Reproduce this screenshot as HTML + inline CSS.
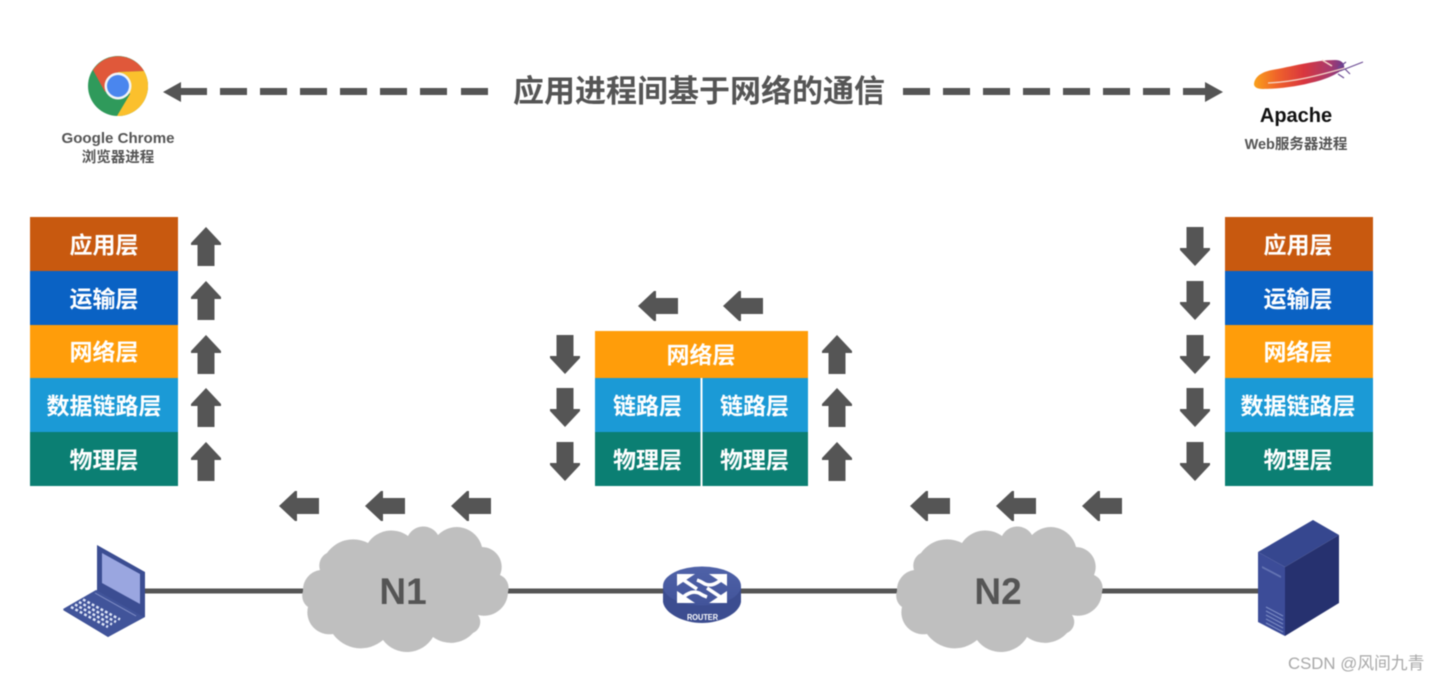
<!DOCTYPE html>
<html lang="zh">
<head>
<meta charset="utf-8">
<title>应用进程间基于网络的通信</title>
<style>
html,body{margin:0;padding:0;background:#fff;width:1440px;height:681px;overflow:hidden}
svg{display:block;font-family:"Liberation Sans","Noto Sans CJK SC",sans-serif;filter:blur(0.4px)}
.l{font-size:23px;font-weight:700;fill:#fff;text-anchor:middle}
</style>
</head>
<body>
<svg width="1440" height="681" viewBox="0 0 1440 681" xmlns="http://www.w3.org/2000/svg">
<defs>
<path id="up" d="M0,0 L15,16 L15,18 L8.5,18 L8.5,39 L-8.5,39 L-8.5,18 L-15,18 L-15,16 Z" fill="#555"/>
<path id="dn" d="M0,39 L15,23 L15,21 L8.5,21 L8.5,0 L-8.5,0 L-8.5,21 L-15,21 L-15,23 Z" fill="#555"/>
<path id="lf" d="M0,0 L16,-15 L18,-15 L18,-8 L40,-8 L40,8 L18,8 L18,15 L16,15 Z" fill="#555"/>
<path id="cloud" d="M303,591 A20,20 0 0 1 320,570 A14,14 0 0 1 327,553 A32,32 0 0 1 368,543 A28,28 0 0 1 408,536 A17,17 0 0 1 438,535 A26,26 0 0 1 482,547 A20,20 0 0 1 500,575 A14,14 0 0 1 508,592 A24,24 0 0 1 478,615 A12,12 0 0 1 473,633 A30,30 0 0 1 433,637 A30,30 0 0 1 383,640 A34,34 0 0 1 333,634 A22,22 0 0 1 308,607 A14,14 0 0 1 303,591 Z" fill="#bfbfbf"/>
<linearGradient id="fe" x1="0" y1="0.5" x2="1" y2="0.5">
<stop offset="0" stop-color="#f9a11b"/><stop offset="0.25" stop-color="#f0642a"/><stop offset="0.55" stop-color="#d9363e"/><stop offset="0.85" stop-color="#a63a6f"/><stop offset="1" stop-color="#6b3a8c"/>
</linearGradient>
<linearGradient id="rt" x1="0" y1="0" x2="0" y2="1"><stop offset="0" stop-color="#4f62a8"/><stop offset="1" stop-color="#42549a"/></linearGradient>
</defs>
<rect width="1440" height="681" fill="#fff"/>

<!-- dashed arrow -->
<g fill="#555">
<path d="M163,92 L181,82 L181,88 L207,88 L207,95 L181,95 L181,102 Z"/>
<rect x="220" y="88" width="27" height="7"/><rect x="260" y="88" width="27" height="7"/><rect x="300" y="88" width="27" height="7"/><rect x="340" y="88" width="27" height="7"/><rect x="380" y="88" width="27" height="7"/><rect x="420" y="88" width="27" height="7"/><rect x="461" y="88" width="27" height="7"/>
<rect x="903" y="88" width="27" height="7"/><rect x="943" y="88" width="27" height="7"/><rect x="983" y="88" width="27" height="7"/><rect x="1023" y="88" width="27" height="7"/><rect x="1063" y="88" width="27" height="7"/><rect x="1103" y="88" width="27" height="7"/><rect x="1143" y="88" width="27" height="7"/>
<path d="M1223,92 L1205,82 L1205,88 L1183,88 L1183,95 L1205,95 L1205,102 Z"/>
</g>
<text x="699" y="102" font-size="31" font-weight="700" fill="#555" text-anchor="middle">应用进程间基于网络的通信</text>

<!-- chrome -->
<g>
<circle cx="118" cy="86" r="30" fill="#2f9a5b"/>
<path d="M93,70 A30,30 0 0 1 144,71 L118,72 L105,92 Z" fill="#e0583a"/>
<path d="M144,71 A30,30 0 0 1 117,116 L130,94 L118,72 Z" fill="#fbc02d"/>
<circle cx="118" cy="86" r="13.500" fill="#f2f4f7"/>
<circle cx="118" cy="86" r="11" fill="#4a86ee"/>
</g>
<text x="118" y="143" font-size="15" font-weight="700" fill="#555" text-anchor="middle" textLength="113" lengthAdjust="spacingAndGlyphs">Google Chrome</text>
<text x="118" y="162" font-size="14.500" font-weight="700" fill="#555" text-anchor="middle">浏览器进程</text>

<!-- apache feather -->
<path d="M1254,84 C1255,76 1262,72 1272,70 C1290,67 1315,60 1335,60 C1342,60 1345,64 1344,68 C1338,74 1325,80 1310,83 C1295,87 1275,89 1263,89 C1257,89 1254,87 1254,84 Z" fill="url(#fe)"/>
<path d="M1268,83 C1295,82 1320,75 1345,68" fill="none" stroke="#f6d7c8" stroke-width="1.200"/>
<path d="M1322,60 L1332,66" stroke="#f6d7c8" stroke-width="1.500"/>
<path d="M1340,71 L1363,62 M1338,68 L1346,62 M1338,74 L1344,78 M1345,69 L1350,74" fill="none" stroke="#6b4a93" stroke-width="1.200"/>
<text x="1296" y="122" font-size="20" font-weight="700" fill="#111" text-anchor="middle">Apache</text>
<text x="1296" y="149" font-size="14.500" font-weight="700" fill="#555" text-anchor="middle">Web服务器进程</text>

<!-- left stack -->
<rect x="30" y="217" width="148" height="54" fill="#c8590f"/>
<rect x="30" y="271" width="148" height="54" fill="#0a62c4"/>
<rect x="30" y="325" width="148" height="53" fill="#ff9d0a"/>
<rect x="30" y="378" width="148" height="54" fill="#1b9ad6"/>
<rect x="30" y="432" width="148" height="54" fill="#0b7f73"/>
<text class="l" x="104" y="253">应用层</text>
<text class="l" x="104" y="307">运输层</text>
<text class="l" x="104" y="360">网络层</text>
<text class="l" x="104" y="414">数据链路层</text>
<text class="l" x="104" y="468">物理层</text>
<use href="#up" x="206" y="227"/><use href="#up" x="206" y="281"/><use href="#up" x="206" y="335"/><use href="#up" x="206" y="388"/><use href="#up" x="206" y="442"/>

<!-- right stack -->
<rect x="1225" y="217" width="148" height="54" fill="#c8590f"/>
<rect x="1225" y="271" width="148" height="54" fill="#0a62c4"/>
<rect x="1225" y="325" width="148" height="53" fill="#ff9d0a"/>
<rect x="1225" y="378" width="148" height="54" fill="#1b9ad6"/>
<rect x="1225" y="432" width="148" height="54" fill="#0b7f73"/>
<text class="l" x="1298" y="253">应用层</text>
<text class="l" x="1298" y="307">运输层</text>
<text class="l" x="1298" y="360">网络层</text>
<text class="l" x="1298" y="414">数据链路层</text>
<text class="l" x="1298" y="468">物理层</text>
<use href="#dn" x="1195" y="227"/><use href="#dn" x="1195" y="281"/><use href="#dn" x="1195" y="335"/><use href="#dn" x="1195" y="388"/><use href="#dn" x="1195" y="442"/>

<!-- middle stack -->
<rect x="595" y="331" width="213" height="47" fill="#ff9d0a"/>
<rect x="595" y="378" width="213" height="54" fill="#1b9ad6"/>
<rect x="595" y="432" width="213" height="54" fill="#0b7f73"/>
<rect x="700.500" y="378" width="2" height="108" fill="#fff"/>
<text class="l" x="701" y="363">网络层</text>
<text class="l" x="647.500" y="414">链路层</text>
<text class="l" x="754.500" y="414">链路层</text>
<text class="l" x="647.500" y="468">物理层</text>
<text class="l" x="754.500" y="468">物理层</text>
<use href="#dn" x="565" y="335"/><use href="#dn" x="565" y="388"/><use href="#dn" x="565" y="442"/>
<use href="#up" x="837" y="335"/><use href="#up" x="837" y="388"/><use href="#up" x="837" y="442"/>
<use href="#lf" x="638" y="306"/><use href="#lf" x="723" y="306"/>

<!-- horizontal arrows -->
<use href="#lf" x="279" y="506"/><use href="#lf" x="365" y="506"/><use href="#lf" x="451" y="506"/>
<use href="#lf" x="910" y="506"/><use href="#lf" x="996" y="506"/><use href="#lf" x="1082" y="506"/>

<!-- network line -->
<g fill="#555">
<rect x="144" y="588.500" width="162" height="5"/>
<rect x="504" y="588.500" width="162" height="5"/>
<rect x="738" y="588.500" width="162" height="5"/>
<rect x="1098" y="588.500" width="162" height="5"/>
</g>

<!-- clouds -->
<use href="#cloud"/>
<use href="#cloud" x="594"/>
<text x="403" y="604" font-size="37" font-weight="700" fill="#555" text-anchor="middle">N1</text>
<text x="998" y="604" font-size="37" font-weight="700" fill="#555" text-anchor="middle">N2</text>

<!-- laptop -->
<g>
<path d="M97,545 L145,572 L145,617 L108,637 L63,610 L97,590 Z" fill="#3b4d92"/>
<path d="M102,553 L140,574 L140,604 L102,583 Z" fill="#9aa6e0"/>
<path d="M63,609 L96,590 L144,617 L108,637 Z" fill="#41549a"/>
<path d="M95,593 L136,616" stroke="#8491c8" stroke-width="1" fill="none"/>
<g stroke="#dfe6f8" stroke-width="2.500" fill="none" stroke-dasharray="2.800 2.200">
<path d="M71,607 L108,627"/>
<path d="M75,604.500 L112,624.500"/>
<path d="M79,602 L116,622"/>
<path d="M83,599.500 L120,619.500"/>
</g>
</g>

<!-- router -->
<g>
<path d="M663,586 L663,602 C665,614 684,623 702,623 C720,623 739,614 741,602 L741,586 Z" fill="#3c4d90"/>
<ellipse cx="702" cy="586" rx="39" ry="19.500" fill="url(#rt)"/>
<g fill="#fff">
<path d="M677,574 L695,574 L677,586 Z"/>
<path d="M727,574 L709,574 L727,586 Z"/>
<path d="M677,603 L695,603 L677,591 Z"/>
<path d="M727,603 L709,603 L727,591 Z"/>
</g>
<g fill="none" stroke="#fff" stroke-width="3.500">
<path d="M682,579 L697,589"/>
<path d="M722,598 L707,588"/>
<path d="M722,579 C715,585 710,586 705,584 C702,582 700,581 697,580"/>
<path d="M682,598 C689,592 694,591 699,593 C702,595 704,596 707,597"/>
</g>
<text x="702.500" y="620" font-size="8" font-weight="700" fill="#fff" text-anchor="middle" textLength="31" lengthAdjust="spacingAndGlyphs">ROUTER</text>
</g>

<!-- server -->
<g>
<path d="M1258,552 L1313,520 L1339,535 L1285,567 Z" fill="#36478f"/>
<path d="M1285,567 L1339,535 L1339,603 L1285,636 Z" fill="#26316f"/>
<path d="M1258,552 L1285,567 L1285,636 L1258,622 Z" fill="#3c4c98"/>
<path d="M1262,566 L1281,576 L1281,578 L1262,568 Z" fill="#6474b3"/>
<g stroke="#7f8fc6" stroke-width="1">
<path d="M1266,607 L1283,616 M1266,611 L1283,620 M1266,615 L1283,624 M1266,619 L1283,628 M1266,623 L1283,632"/>
</g>
</g>

<!-- watermark -->
<text x="1288" y="669" font-size="16.800" fill="#a8a8a8">CSDN @风间九青</text>
</svg>
</body>
</html>
